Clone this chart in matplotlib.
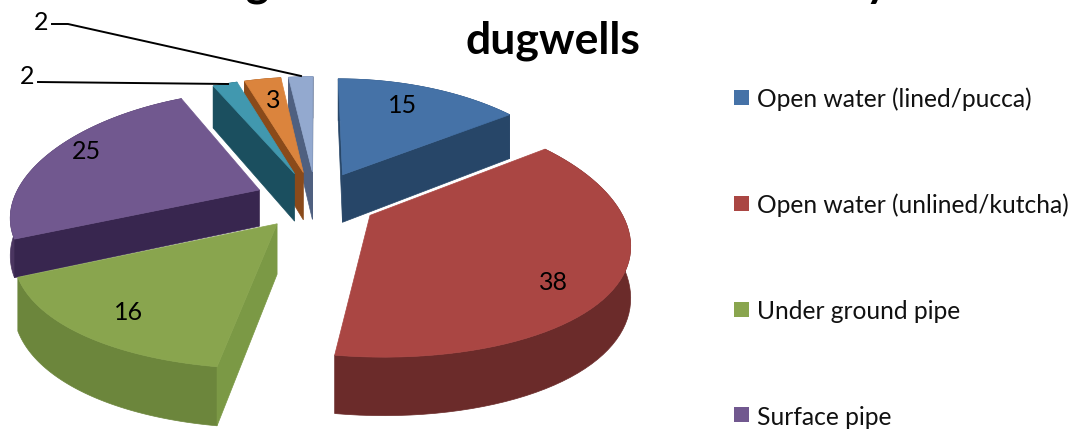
import numpy as np
import matplotlib
matplotlib.use("Agg")
import matplotlib.pyplot as plt
from matplotlib.patches import Polygon, Rectangle

categories = ["Open water (lined/pucca)", "Open water (unlined/kutcha)", "Under ground pipe",
              "Surface pipe", "Other 1", "Other 2", "Other 3"]
values = [15, 38, 16, 25, 2, 3, 2]
top_colors = ["#4572a7", "#aa4643", "#89a54e", "#71588f", "#4198af", "#db843d", "#93a9cf"]
wall_colors = ["#2a4a70", "#6b2b2a", "#6c863c", "#4a3560", "#1f5566", "#8a4a1a", "#4f6080"]
cut_colors = ["#274668", "#9a3f3c", "#7b9945", "#38264f", "#1b4f5f", "#8a4a1a", "#4f6080"]
depth_scale = [1, 1, 1, 0.75, 1, 1, 1]
legend_shown = 4

plt.rcParams["font.family"] = ["Lato", "DejaVu Sans"]

# pixel coordinates, so the layout can be compared with the reference directly
fig = plt.figure(figsize=(10.74, 4.31), dpi=100)
ax = fig.add_axes([0, 0, 1, 1])
ax.set_xlim(0, 1074)
ax.set_ylim(431, 0)
ax.axis("off")

cx, cy = 316, 201
A, B, k, kx = 246, 116.5, 0.144, 0.2
explode, depth = 0.25, 49


def project(gx, gy, z=0):
    p = 1 / (1 + k * gy)
    px = 1 / (1 + kx * gy)
    return cx + A * gx * px, cy - B * gy * p + depth * z * p


def faces_viewer(apex, end, inner):
    # the cut face shows only if the slice top lies above its edge on screen
    ex, ey = end[0] - apex[0], end[1] - apex[1]
    ix, iy = inner[0] - apex[0], inner[1] - apex[1]
    return (ex * iy - ey * ix) * ex < 0


vals = np.array(values, dtype=float)
edges = np.concatenate([[0], np.cumsum(vals)]) / vals.sum() * 2 * np.pi
slices = []
for i in range(len(vals)):
    a0, a1 = edges[i], edges[i + 1]
    mid = (a0 + a1) / 2
    ox, oy = explode * np.sin(mid), explode * np.cos(mid)
    t = np.linspace(a0, a1, 60)
    gx = ox + np.sin(t)
    gy = oy + np.cos(t)
    slices.append((i, ox, oy, gx, gy))

# back slices first
for i, ox, oy, gx, gy in sorted(slices, key=lambda s: -s[2]):
    d = depth_scale[i]
    rim = [project(x, y) for x, y in zip(gx, gy)]
    rim_low = [project(x, y, d) for x, y in zip(gx, gy)]
    ax.add_patch(Polygon(rim + rim_low[::-1], closed=True, fc=wall_colors[i], ec=wall_colors[i], lw=0.5))
    apex = project(ox, oy)
    for ex, ey in ((gx[0], gy[0]), (gx[-1], gy[-1])):
        end = project(ex, ey)
        if faces_viewer(apex, end, rim[30]):
            q = [apex, end, project(ex, ey, d), project(ox, oy, d)]
            ax.add_patch(Polygon(q, closed=True, fc=cut_colors[i], ec=cut_colors[i], lw=0.5))
    ax.add_patch(Polygon([apex] + rim, closed=True, fc=top_colors[i], ec=top_colors[i], lw=0.5))

# data labels
label_pos = [(403, 106), (553, 283), (129, 313), (86, 152), None, (273, 101), None]
for v, pos in zip(values, label_pos):
    if pos is not None:
        ax.text(pos[0], pos[1], str(v), ha="center", va="center", fontsize=18, color="black")

ax.plot([52, 68, 301], [25, 25, 77], color="black", lw=1.4)
ax.plot([38, 228], [83, 85], color="black", lw=1.4)
ax.text(41, 22, "2", ha="center", va="center", fontsize=18)
ax.text(27, 77, "2", ha="center", va="center", fontsize=18)

# title, first line cut by the top edge
ax.text(188, -4, "Irrigation channels used in farms by", ha="left", va="baseline",
        fontsize=32, fontweight="bold")
ax.text(553, 41, "dugwells", ha="center", va="center", fontsize=32, fontweight="bold")

# legend
legend_y = [98, 204, 310, 416]
for name, col, y in zip(categories[:legend_shown], top_colors, legend_y):
    ax.add_patch(Rectangle((734, y - 7.5), 15, 15, fc=col, ec="none"))
    ax.text(757, y + 1.5, name, ha="left", va="center", fontsize=17.7, color="#111111")

fig.savefig("out.png", dpi=100)
